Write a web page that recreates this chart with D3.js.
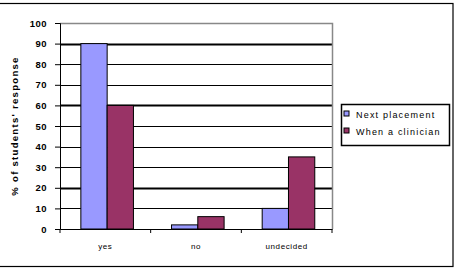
<!DOCTYPE html>
<html>
<head>
<meta charset="utf-8">
<script src="https://cdn.jsdelivr.net/npm/d3@7"></script>
<style>
body { margin: 0; background: #fff; }
text { font-family: "Liberation Sans", Arial, sans-serif; fill: #000; }
</style>
</head>
<body>
<div id="chart"></div>
<script>
var categories = ["yes", "no", "undecided"];
var seriesNames = ["Next placement", "When a clinician"];
var nextPlacement = [90, 2, 10];
var whenClinician = [60, 6, 35];
var yTicks = [0, 10, 20, 30, 40, 50, 60, 70, 80, 90, 100];
var colors = ["#9999ff", "#993366"];

var W = 456, H = 270;
var margin = {top: 23, right: 124, bottom: 41, left: 60},
    width = W - margin.left - margin.right,
    height = H - margin.top - margin.bottom;

var svg = d3.select("#chart").append("svg")
    .attr("width", W)
    .attr("height", H);

// outer frame (left edge falls outside the picture)
svg.append("rect")
    .attr("x", -2).attr("y", 3.5)
    .attr("width", 455).attr("height", 263)
    .attr("fill", "none").attr("stroke", "#000").attr("stroke-width", 1.2);

var g = svg.append("g")
    .attr("transform", "translate(" + margin.left + "," + margin.top + ")");

var x0 = d3.scaleBand()
    .domain(categories)
    .range([0, width])
    .paddingInner(0)
    .paddingOuter(0);

var x1 = d3.scaleBand()
    .domain([0, 1])
    .range([x0.bandwidth() * 0.23, x0.bandwidth() * 0.81]);

var y = d3.scaleLinear()
    .domain([0, 100])
    .range([height, 0]);

// gridlines
g.selectAll(".grid")
    .data(yTicks.filter(function(d) { return d > 0 && d < 100; }))
    .enter().append("line")
    .attr("x1", 0).attr("x2", width)
    .attr("y1", function(d) { return Math.round(y(d)) + 0.5; })
    .attr("y2", function(d) { return Math.round(y(d)) + 0.5; })
    .attr("stroke", "#000")
    .attr("stroke-width", function(d) { return (d == 90 || d == 60 || d == 20) ? 2 : 1; });

// plot area top/right border (gray)
g.append("path")
    .attr("d", "M0," + (Math.round(y(100)) + 0.5) + "H" + (width + 0.5) + "V" + height)
    .attr("fill", "none").attr("stroke", "#888").attr("stroke-width", 1.5);

// bars
var rows = categories.map(function(c, i) { return {cat: c, vals: [nextPlacement[i], whenClinician[i]]}; });

var groups = g.selectAll(".grp")
    .data(rows)
    .enter().append("g")
    .attr("transform", function(d) { return "translate(" + x0(d.cat) + ",0)"; });

groups.selectAll("rect")
    .data(function(d) { return d.vals.map(function(v, k) { return {k: k, v: v}; }); })
    .enter().append("rect")
    .attr("x", function(d) { return x1(d.k); })
    .attr("y", function(d) { return y(d.v); })
    .attr("width", x1.bandwidth())
    .attr("height", function(d) { return height - y(d.v); })
    .attr("fill", function(d) { return colors[d.k]; })
    .attr("stroke", "#000")
    .attr("stroke-width", 1);

// y axis
var yAxis = g.append("g")
    .call(d3.axisLeft(y).tickValues(yTicks).tickSize(5).tickPadding(8));
yAxis.select(".domain").attr("stroke", "#000");
yAxis.selectAll("text").style("font-size", "9.5px").style("font-weight", "bold")
    .style("letter-spacing", "0.5px");

// x axis
var xAxis = g.append("g")
    .attr("transform", "translate(0," + height + ")")
    .call(d3.axisBottom(x0).tickSize(0).tickPadding(14));
xAxis.select(".domain").attr("stroke", "#000");
xAxis.selectAll("text").style("font-size", "8px").style("letter-spacing", "0.6px");
xAxis.selectAll(".sep")
    .data(d3.range(categories.length + 1))
    .enter().append("line")
    .attr("class", "sep")
    .attr("x1", function(d) { return d * x0.bandwidth(); })
    .attr("x2", function(d) { return d * x0.bandwidth(); })
    .attr("y1", 0).attr("y2", 4)
    .attr("stroke", "#000");

// y axis title
svg.append("text")
    .attr("transform", "rotate(-90)")
    .attr("x", -126)
    .attr("y", 18)
    .style("text-anchor", "middle")
    .style("font-size", "9.5px")
    .style("font-weight", "bold")
    .style("letter-spacing", "1.3px")
    .text("% of students' response");

// legend
var legend = svg.append("g").attr("transform", "translate(341,104)");
legend.append("rect")
    .attr("x", 0.5).attr("y", 0.5)
    .attr("width", 108).attr("height", 41)
    .attr("fill", "#fff").attr("stroke", "#000").attr("stroke-width", 1.5);

var items = legend.selectAll(".item")
    .data(seriesNames)
    .enter().append("g")
    .attr("transform", function(d, i) { return "translate(3," + (11 + i * 17) + ")"; });
items.append("rect")
    .attr("x", 0).attr("y", -4)
    .attr("width", 5).attr("height", 5)
    .attr("fill", function(d, i) { return colors[i]; })
    .attr("stroke", "#000");
items.append("text")
    .attr("x", 12).attr("y", 3)
    .style("font-size", "9px")
    .style("letter-spacing", "1.2px")
    .text(function(d) { return d; });
</script>
</body>
</html>
